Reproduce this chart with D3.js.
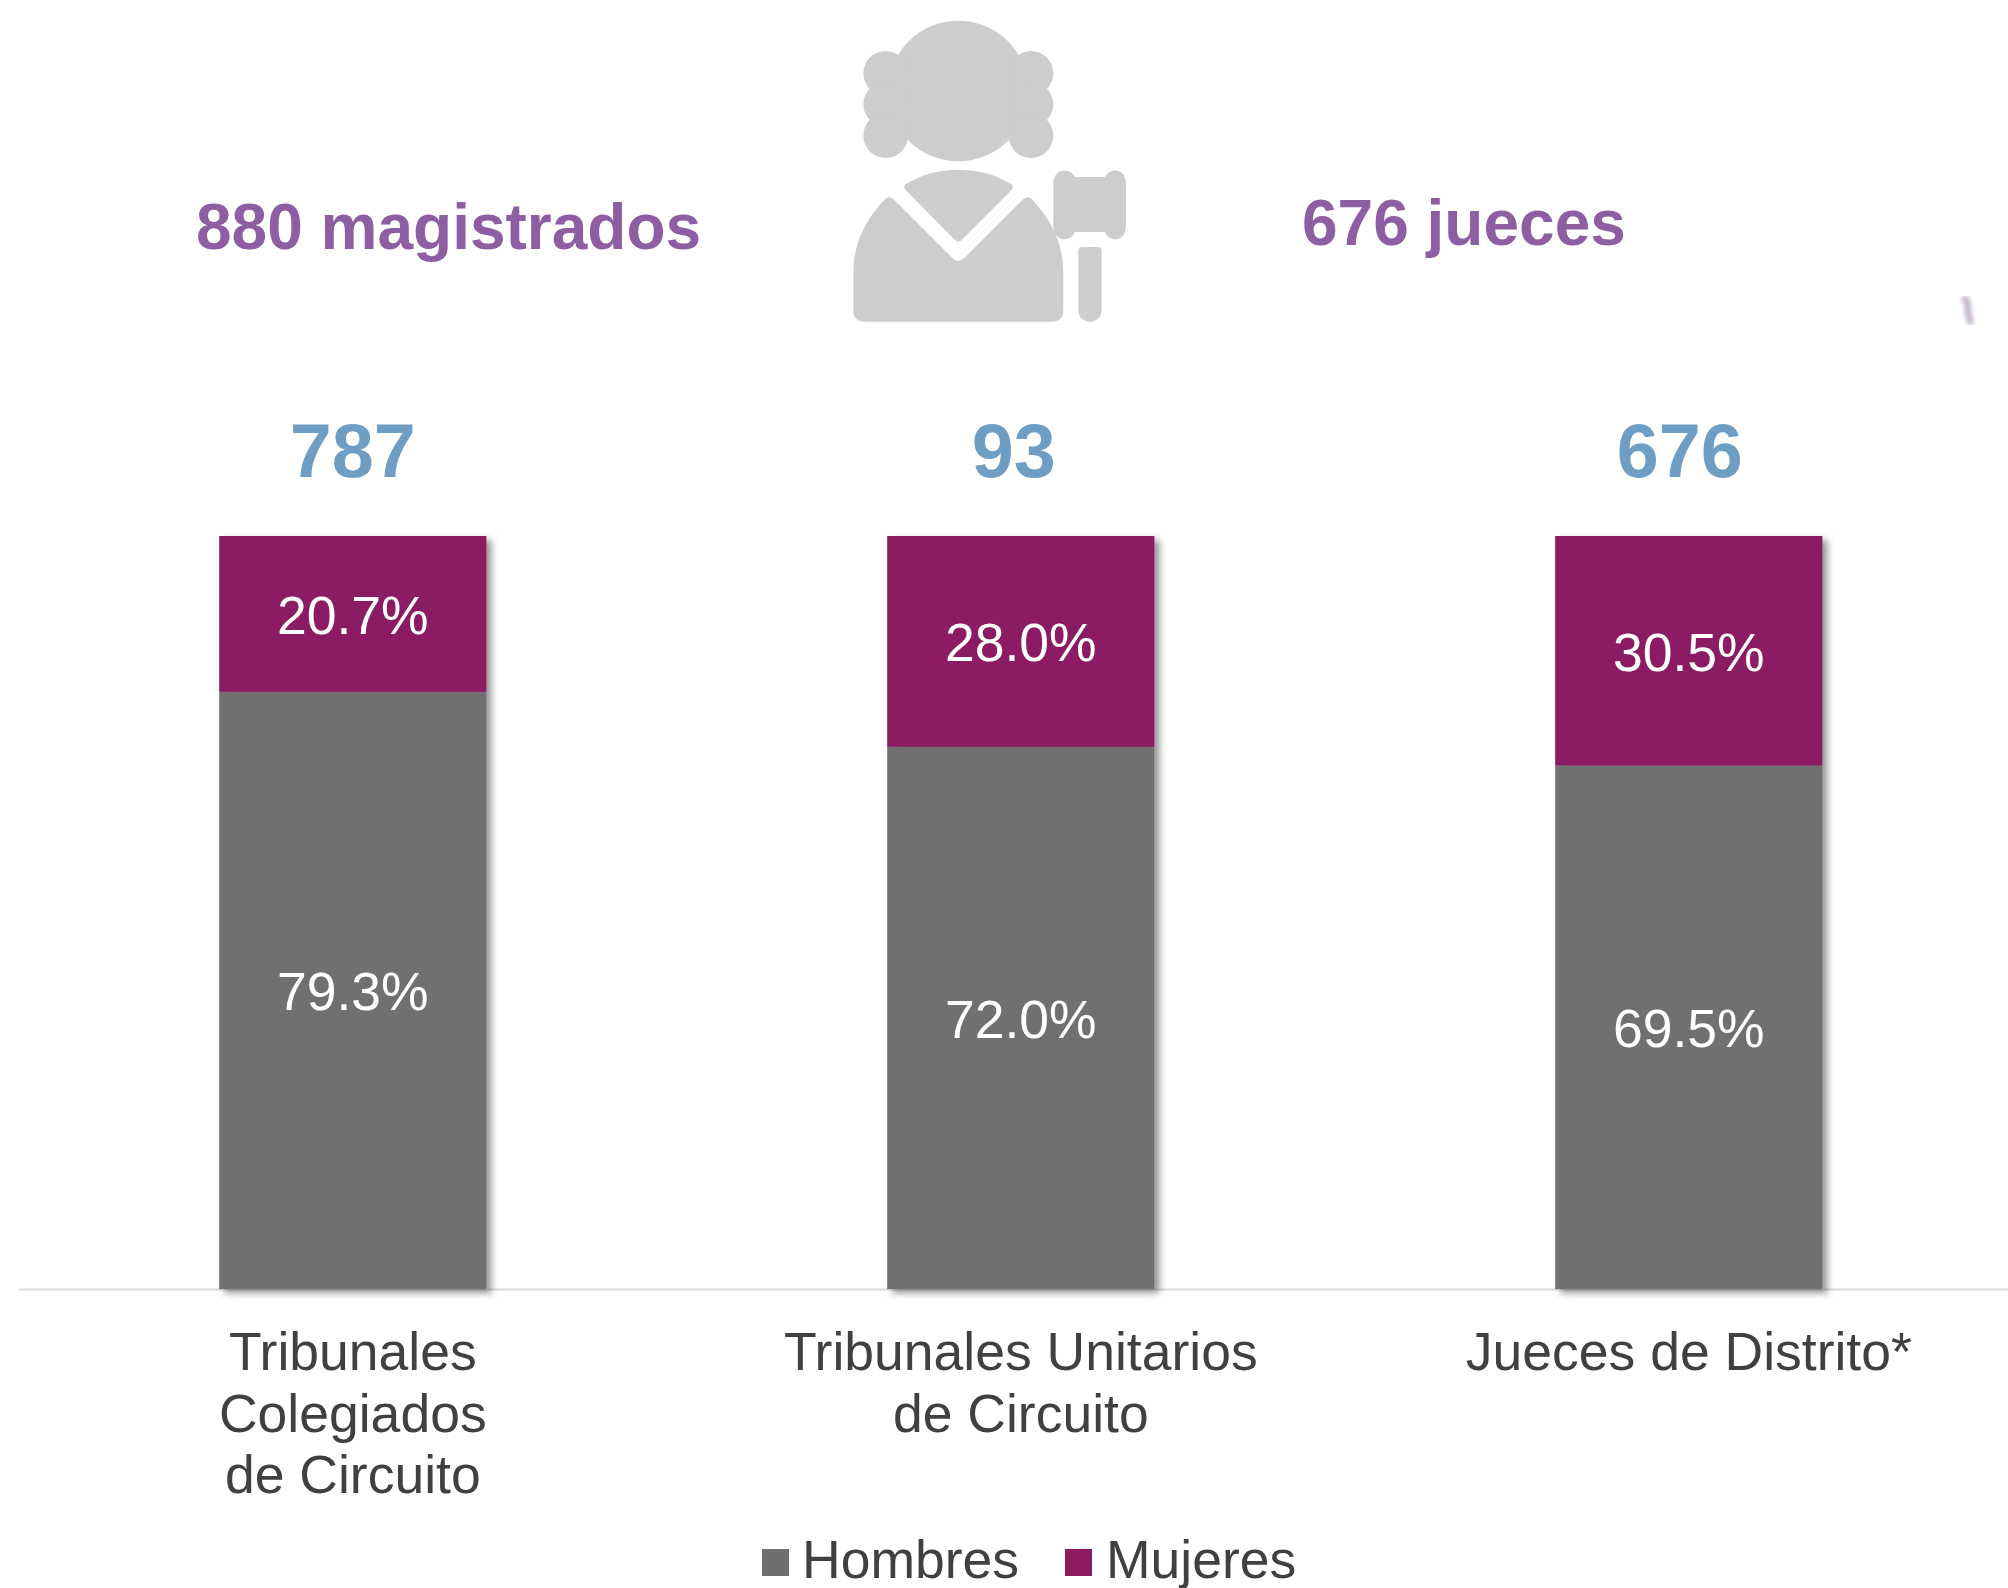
<!DOCTYPE html>
<html><head><meta charset="utf-8">
<script src="https://cdn.jsdelivr.net/npm/d3@7"></script>
<style>html,body{margin:0;padding:0;background:#fff}svg{display:block}text{font-family:"Liberation Sans",Arial,sans-serif}</style>
</head><body><div id="chart"></div>
<script>
const categories = ["Tribunales Colegiados de Circuito","Tribunales Unitarios de Circuito","Jueces de Distrito*"];
const categoryLines = [["Tribunales","Colegiados","de Circuito"],["Tribunales Unitarios","de Circuito"],["Jueces de Distrito*"]];
const hombres = [79.3,72.0,69.5];
const mujeres = [20.7,28.0,30.5];
const totals = [787,93,676];
const totalOffsets = [0,-7,-9];
const seriesNames = ["Hombres","Mujeres"];
const seriesColors = ["#6f6f6f","#8b1a63"];
const headlines = [{t:"880 magistrados",x:196,y:249},{t:"676 jueces",x:1302,y:245}];

const W=2008,H=1588;
const svg=d3.select("#chart").append("svg").attr("width",W).attr("height",H).attr("viewBox",[0,0,W,H]);
const defs=svg.append("defs");
const f=defs.append("filter").attr("id","sh").attr("filterUnits","userSpaceOnUse").attr("x",0).attr("y",500).attr("width",W).attr("height",820);
f.append("feDropShadow").attr("dx",5).attr("dy",4).attr("stdDeviation",3.5).attr("flood-color","#000").attr("flood-opacity",0.42);
defs.append("filter").attr("id","bl").attr("x","-200%").attr("width","500%").append("feGaussianBlur").attr("stdDeviation",2.2);

const x=d3.scaleBand().domain(categories).range([18.8,2022.8]).paddingInner(0.6).paddingOuter(0.3);
const y=d3.scaleLinear().domain([0,100]).range([1289,536]);

// axis line
const axis=svg.append("g").attr("transform","translate(0,1289)").call(d3.axisBottom(x).tickSize(0).tickFormat(""));
axis.select(".domain").attr("stroke","#d9d9d9").attr("stroke-width",2).attr("d","M19,0.5H2008");

// stacked bars (shadow applied to the whole stack)
const stack=d3.stack().keys([0,1]).value((d,k)=>d[k])(categories.map((c,i)=>[hombres[i],mujeres[i]]));
const bars=svg.append("g").attr("filter","url(#sh)");
const g=bars.selectAll("g").data(stack).join("g").attr("fill",(d,i)=>seriesColors[i]);
g.selectAll("rect").data(d=>d).join("rect")
 .attr("x",(d,i)=>x(categories[i])).attr("width",x.bandwidth())
 .attr("y",d=>y(d[1])).attr("height",d=>y(d[0])-y(d[1]));

// value labels
const labels=svg.append("g").attr("fill","#fff").attr("font-size",53.5).attr("text-anchor","middle");
stack.forEach(s=>s.forEach((d,i)=>{
  labels.append("text").attr("x",x(categories[i])+x.bandwidth()/2).attr("y",(y(d[0])+y(d[1]))/2+20)
    .text((d[1]-d[0]).toFixed(1)+"%");
}));

// totals
svg.append("g").selectAll("text").data(totals).join("text")
 .attr("x",(d,i)=>x(categories[i])+x.bandwidth()/2+totalOffsets[i]).attr("y",477)
 .attr("text-anchor","middle").attr("font-weight","bold").attr("font-size",75.5).attr("fill","#6f9ec5").text(d=>d);

// category labels
const cl=svg.append("g").attr("fill","#404040").attr("font-size",53.5).attr("text-anchor","middle");
categoryLines.forEach((ls,i)=>ls.forEach((l,j)=>{
  cl.append("text").attr("x",x(categories[i])+x.bandwidth()/2).attr("y",1370+j*61.5).text(l);
}));

// headlines
svg.append("g").selectAll("text").data(headlines).join("text")
 .attr("x",d=>d.x).attr("y",d=>d.y).attr("font-weight","bold").attr("font-size",64).attr("fill","#8e5ea2").text(d=>d.t);

// legend
const lg=svg.append("g");
const legendX=[762,1065];
const legendTextX=[802,1106];
seriesNames.forEach((n,i)=>{
  lg.append("rect").attr("x",legendX[i]).attr("y",1549).attr("width",27).attr("height",27).attr("fill",seriesColors[i]);
  lg.append("text").attr("x",legendTextX[i]).attr("y",1578).attr("font-size",53.5).attr("fill","#404040").text(n);
});

// judge icon (pictogram)
const ic=svg.append("g").attr("transform","translate(820,0) scale(0.3333)").attr("fill","#cdcdcd");
ic.append("circle").attr("cx",415).attr("cy",273).attr("r",211);
[220,313,407].forEach(cy=>[197,633].forEach(cx=>ic.append("circle").attr("cx",cx).attr("cy",cy).attr("r",67)));
ic.append("path").attr("d","M100 820C100 725 140 655 195 597Q207 586 220 597L398 775Q415 792 432 775L610 597Q622 586 635 597C690 655 730 725 730 820L730 930Q730 965 695 965L135 965Q100 965 100 930Z");
ic.append("path").attr("d","M258 552C350 495 480 495 573 552Q583 560 575 570L425 720Q415 729 405 720L257 570Q248 560 258 552Z");
ic.append("path").attr("d","M765 531L855 531C870 500 918 505 918 550L918 677C918 725 870 730 855 696L765 696C750 730 700 725 700 677L700 550C700 505 750 500 765 531Z");
ic.append("path").attr("d","M788 741L832 741Q845 741 845 754L845 930C845 977 775 977 775 930L775 754Q775 741 788 741Z");

// small stray mark at the right edge
svg.append("path").attr("d","M1965 299C1969 303 1967 307 1968 312C1969 316 1970 320 1970 322").attr("fill","none")
 .attr("stroke","#c4b8cc").attr("stroke-width",7).attr("filter","url(#bl)").attr("stroke-linecap","round");
</script></body></html>
